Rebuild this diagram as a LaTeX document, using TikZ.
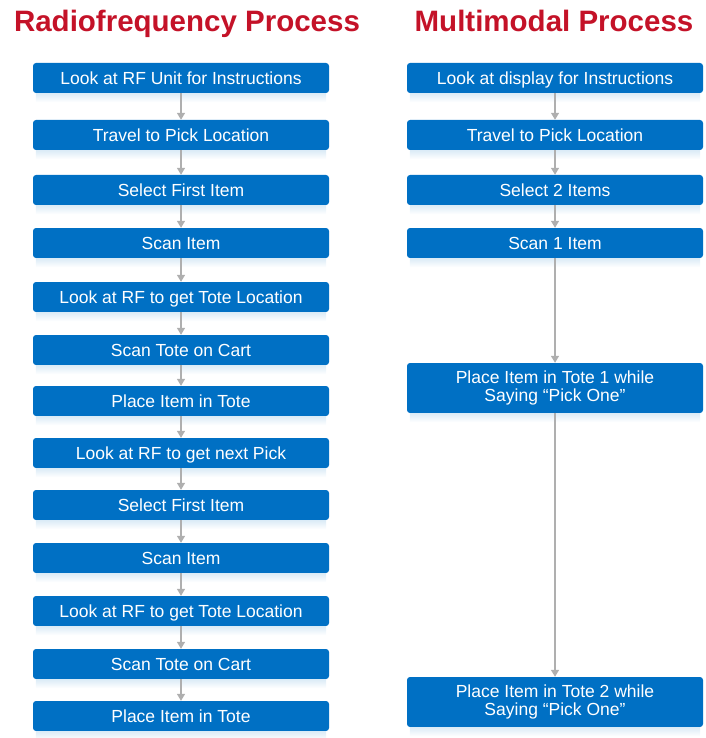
\documentclass[tikz,border=0pt]{standalone}
\usepackage{fontspec}
\setmainfont{Liberation Sans}
\usetikzlibrary{arrows.meta}
\definecolor{boxblue}{RGB}{0,112,196}
\definecolor{titlered}{RGB}{196,18,40}
\definecolor{conngray}{RGB}{175,175,175}
\begin{document}
\begin{tikzpicture}[x=1pt,y=-1pt,
  basebox/.style={fill=boxblue, rounded corners=3pt, text=white, minimum width=296pt,
    inner sep=0pt, font=\fontsize{17.5}{18}\selectfont, align=center},
  box/.style={basebox, minimum height=30pt, text height=14.5pt, text depth=1.5pt},
  tallbox/.style={basebox, minimum height=50pt},
  conn/.style={draw=conngray, line width=1.3pt, -{Triangle[width=8pt,length=7pt]}},
  title/.style={text=titlered, anchor=base, font=\fontsize{29.5}{32}\selectfont\bfseries}]
\useasboundingbox (0,0) rectangle (705,738);
\node[title] (t1) at (187,32) {Radiofrequency Process};
\node[title] (t2) at (554,32) {Multimodal Process};

\node[box] (a1) at (181,78) {Look at RF Unit for Instructions};
\node[box] (a2) at (181,135) {Travel to Pick Location};
\node[box] (a3) at (181,190) {Select First Item};
\node[box] (a4) at (181,243) {Scan Item};
\node[box] (a5) at (181,297) {Look at RF to get Tote Location};
\node[box] (a6) at (181,350) {Scan Tote on Cart};
\node[box] (a7) at (181,401) {Place Item in Tote};
\node[box] (a8) at (181,453) {Look at RF to get next Pick};
\node[box] (a9) at (181,505) {Select First Item};
\node[box] (a10) at (181,558) {Scan Item};
\node[box] (a11) at (181,611) {Look at RF to get Tote Location};
\node[box] (a12) at (181,664) {Scan Tote on Cart};
\node[box] (a13) at (181,716) {Place Item in Tote};

\node[box] (b1) at (555,78) {Look at display for Instructions};
\node[box] (b2) at (555,135) {Travel to Pick Location};
\node[box] (b3) at (555,190) {Select 2 Items};
\node[box] (b4) at (555,243) {Scan 1 Item};
\node[tallbox] (b5) at (555,388) {Place Item in Tote 1 while\\Saying “Pick One”};
\node[tallbox] (b6) at (555,702) {Place Item in Tote 2 while\\Saying “Pick One”};

% faint reflections under the boxes
\foreach \n in {a1,a2,a3,a4,a5,a6,a7,a8,a9,a10,a11,a12,a13,b1,b2,b3,b4,b5,b6}
  \shade[top color=boxblue!14, bottom color=white]
    ([xshift=3pt]\n.south west) rectangle ([xshift=-3pt,yshift=-9pt]\n.south east);

\foreach \i/\j in {1/2,2/3,3/4,4/5,5/6,6/7,7/8,8/9,9/10,10/11,11/12,12/13}
  \draw[conn] (a\i) -- (a\j);
\foreach \i/\j in {1/2,2/3,3/4,4/5,5/6}
  \draw[conn] (b\i) -- (b\j);
\end{tikzpicture}
\end{document}
